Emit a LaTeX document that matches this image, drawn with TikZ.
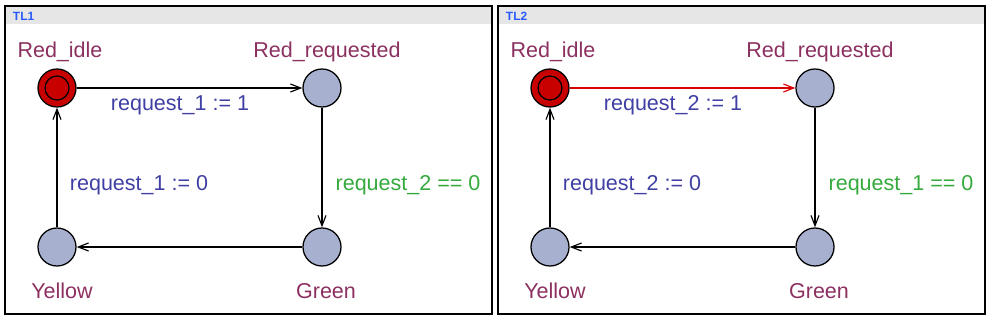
\documentclass[tikz,border=0pt]{standalone}
\usepackage{fontspec}
\setmainfont{Liberation Sans}
\usetikzlibrary{arrows.meta,positioning}

\definecolor{locname}{RGB}{140,48,96}
\definecolor{assign}{RGB}{64,64,164}
\definecolor{guard}{RGB}{52,170,60}
\definecolor{locfill}{RGB}{168,176,208}
\definecolor{initfill}{RGB}{200,0,0}
\definecolor{titlebar}{RGB}{230,230,230}
\definecolor{titletext}{RGB}{40,90,255}

\begin{document}
\begin{tikzpicture}[
    x=0.025cm, y=-0.025cm,
    loc/.style={circle, draw, line width=0.9pt, minimum size=0.95cm, inner sep=0pt, fill=locfill},
    ring/.style={circle, draw, line width=0.9pt, minimum size=0.6cm, inner sep=0pt},
    locnm/.style={font=\fontsize{15.3}{18}\selectfont, text=locname},
    upd/.style={font=\fontsize{15.3}{18}\selectfont, text=assign},
    grd/.style={font=\fontsize{15.3}{18}\selectfont, text=guard},
    trans/.style={line width=0.8pt, -{Straight Barb[length=0.26cm, width=0.2cm, line width=0.8pt]}},
    panel/.style={draw, line width=1pt},
    tmplname/.style={font=\fontsize{8.5}{10}\selectfont\bfseries, text=titletext, anchor=west}
]
    \useasboundingbox (0,0) rectangle (992,322);

    % Panel TL1
    \fill[titlebar] (5,6) rectangle (492,24);
    \draw[panel] (5,6) rectangle (492,314);
    \node[tmplname] (t1) at (8,16) {TL1};

    \node[loc, fill=initfill] (idle1) at (57,88) {};
    \node[ring] (idle1in) at (idle1) {};
    \node[loc] (req1) at (322,88) {};
    \node[loc] (grn1) at (322,247) {};
    \node[loc] (yel1) at (57,247) {};

    \node[locnm] (idle1n) at (60,52) {Red\_idle};
    \node[locnm] (req1n) at (327,52) {Red\_requested};
    \node[locnm] (yel1n) at (62,291) {Yellow};
    \node[locnm] (grn1n) at (326,291) {Green};

    \draw[trans] (idle1) -- (req1);
    \draw[trans] (req1) -- (grn1);
    \draw[trans] (grn1) -- (yel1);
    \draw[trans] (yel1) -- (idle1);

    \node[upd] (e1a) at (180,105) {request\_1 := 1};
    \node[grd] (e1b) at (408,185) {request\_2 == 0};
    \node[upd] (e1c) at (139,185) {request\_1 := 0};

    % Panel TL2
    \fill[titlebar] (498,6) rectangle (985,24);
    \draw[panel] (498,6) rectangle (985,314);
    \node[tmplname] (t2) at (501,16) {TL2};

    \node[loc, fill=initfill] (idle2) at (550,88) {};
    \node[ring] (idle2in) at (idle2) {};
    \node[loc] (req2) at (815,88) {};
    \node[loc] (grn2) at (815,247) {};
    \node[loc] (yel2) at (550,247) {};

    \node[locnm] (idle2n) at (553,52) {Red\_idle};
    \node[locnm] (req2n) at (820,52) {Red\_requested};
    \node[locnm] (yel2n) at (555,291) {Yellow};
    \node[locnm] (grn2n) at (819,291) {Green};

    \draw[trans, red!85!black] (idle2) -- (req2);
    \draw[trans] (req2) -- (grn2);
    \draw[trans] (grn2) -- (yel2);
    \draw[trans] (yel2) -- (idle2);

    \node[upd] (e2a) at (673,105) {request\_2 := 1};
    \node[grd] (e2b) at (901,185) {request\_1 == 0};
    \node[upd] (e2c) at (632,185) {request\_2 := 0};
\end{tikzpicture}
\end{document}
